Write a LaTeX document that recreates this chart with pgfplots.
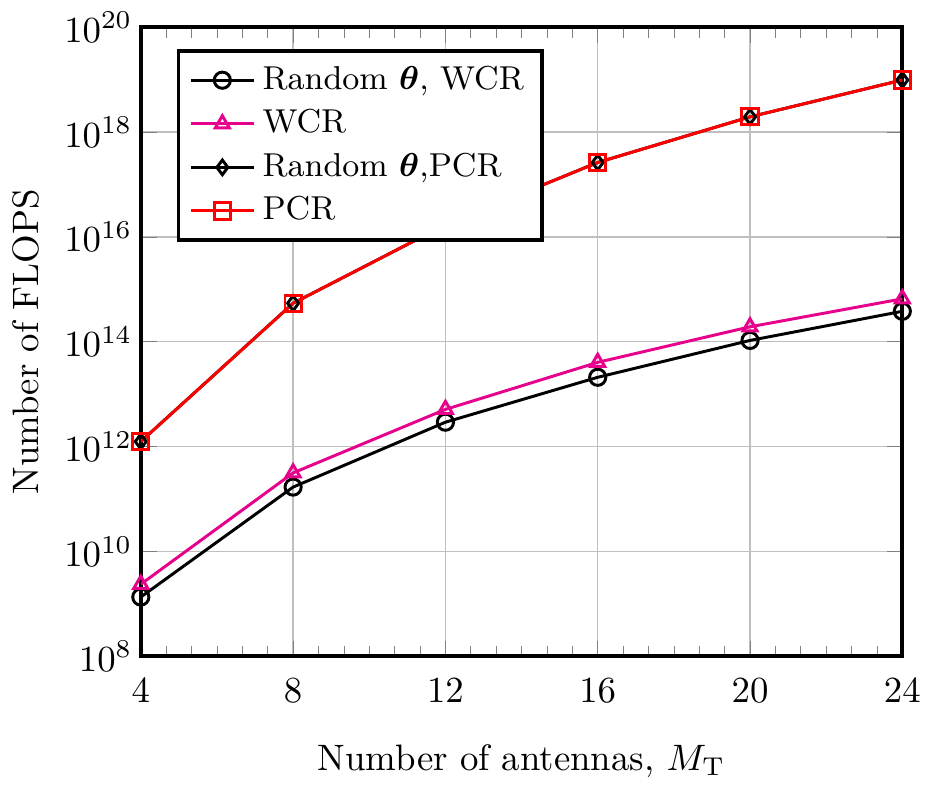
\documentclass[border=0pt]{standalone}
\usepackage{amsmath}
\usepackage{pgfplots}
\pgfplotsset{compat=1.18}
\definecolor{mymag}{RGB}{230,0,140}
\begin{document}
\begin{tikzpicture}
\begin{axis}[
  scale only axis,
  width=207pt, height=171pt,
  ymode=log,
  xmin=4, xmax=24, ymin=1e8, ymax=1e20,
  xtick={4,8,12,16,20,24},
  minor x tick num=5,
  ytick={1e8,1e10,1e12,1e14,1e16,1e18,1e20},
  yminorticks=false,
  grid=major,
  axis line style={line width=1pt},
  xticklabel style={yshift=-2.5pt},
  yticklabel style={xshift=1.2pt},
  xlabel={Number of antennas, $M_{\mathrm{T}}$},
  ylabel={Number of FLOPS},
  xlabel style={at={(axis description cs:0.5,0)}, anchor=base, yshift=-31pt},
  legend style={at={(0.047,0.965)}, anchor=north west, line width=1pt, draw=black,
    cells={anchor=west}, font=\small},
  mark size=2.2pt,
]
\addplot[thick, black, mark=o, mark options={solid}] coordinates {
(4,1.35e9) (8,1.69e11) (12,2.92e12) (16,2.10e13) (20,1.06e14) (24,3.81e14)};
\addlegendentry{Random $\boldsymbol{\theta}$, WCR}
\addplot[thick, mymag, mark=triangle, mark options={solid}] coordinates {
(4,2.37e9) (8,3.15e11) (12,5.12e12) (16,4.05e13) (20,1.93e14) (24,6.59e14)};
\addlegendentry{WCR}
\addplot[thick, black, mark=diamond, mark size=2pt, mark options={solid}] coordinates {
(4,1.25e12) (8,5.43e14) (12,1.70e16) (16,2.63e17) (20,1.95e18) (24,9.84e18)};
\addlegendentry{Random $\boldsymbol{\theta}$,PCR}
\addplot[thick, red, mark=square, mark options={solid}] coordinates {
(4,1.25e12) (8,5.43e14) (12,1.70e16) (16,2.63e17) (20,1.95e18) (24,9.84e18)};
\addlegendentry{PCR}
\end{axis}
\end{tikzpicture}
\end{document}
